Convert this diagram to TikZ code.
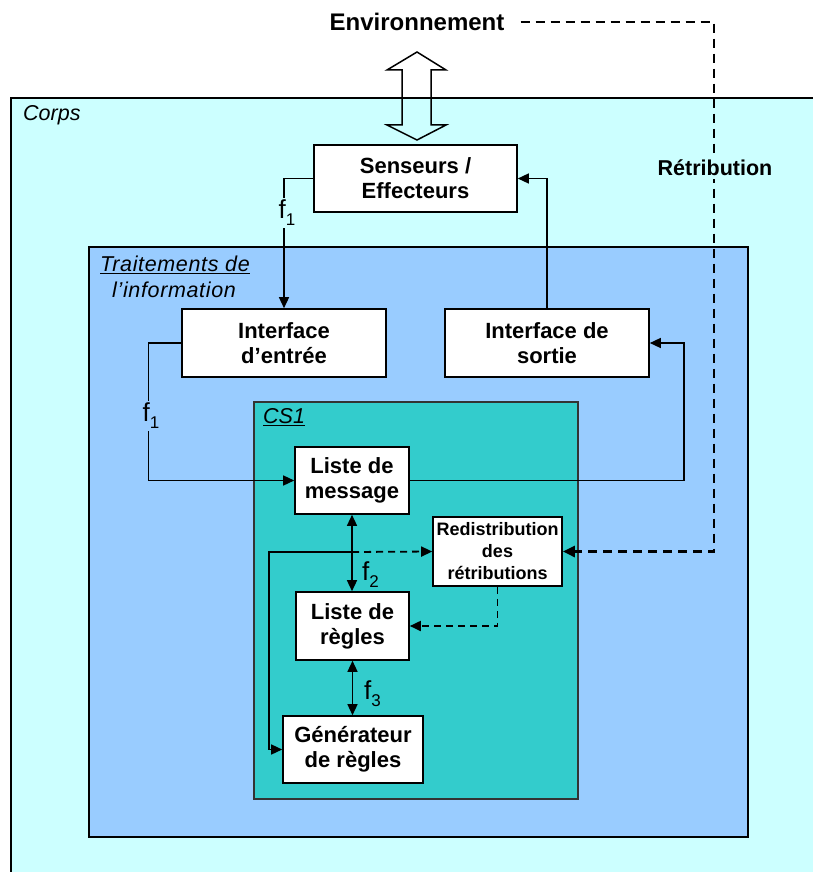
\documentclass[tikz,border=0pt]{standalone}
\usepackage{fontspec}
\setmainfont{Liberation Sans}
\usetikzlibrary{arrows.meta}
\definecolor{corps}{HTML}{CCFFFF}
\definecolor{trait}{HTML}{99CCFF}
\definecolor{csone}{HTML}{33CCCC}
\newcommand{\fsub}[1]{f\raisebox{-0.5ex}{\fontsize{17}{17}\selectfont #1}}
\begin{document}
\begin{tikzpicture}[x=1pt,y=-1pt,
  box/.style={draw=black, line width=1.6pt, fill=white, inner sep=0pt, align=center,
    font=\fontsize{22}{25}\selectfont\bfseries},
  smallbox/.style={box, font=\fontsize{18}{22}\selectfont\bfseries},
  tip/.style={-{Triangle[length=11pt,width=10pt]}},
  conn/.style={line width=1.4pt, tip},
  dconn/.style={line width=1.4pt, {Triangle[length=11pt,width=10pt]}-{Triangle[length=11pt,width=10pt]}},
  dashconn/.style={line width=1.8pt, dash pattern=on 7pt off 5pt, tip},
  bigdash/.style={line width=2.6pt, dash pattern=on 9pt off 6pt, -{Triangle[length=12pt,width=11pt]}},
  lab/.style={font=\fontsize{26}{26}\selectfont, inner sep=2pt},
  itlab/.style={font=\fontsize{21.5}{25}\selectfont\itshape, anchor=west, inner sep=0pt},
  spitlab/.style={itlab, font=\fontsize{21.5}{25}\selectfont\itshape\addfontfeature{LetterSpace=3}},
]
\useasboundingbox (0,0) rectangle (813,872);
% containers
\fill[corps] (11,98) rectangle (813,872);
\draw[line width=1.3pt] (813,98) -- (11,98) -- (11,872);
\draw[line width=1.3pt, fill=trait] (89,247) rectangle (748,837);
\draw[line width=1.1pt, draw=black!80, fill=csone] (254,402) rectangle (578,799);
\node[itlab] (corpsl) at (23,115) {Corps};
\node[spitlab] (tr1) at (100,265) {\underline{Traitements de}};
\node[spitlab] (tr2) at (112,290) {l’information};
\node[itlab] (csl) at (263,417) {\underline{CS1}};

% top
\node[font=\fontsize{24}{24}\selectfont\bfseries, inner sep=2pt] (env) at (417,22) {Environnement};
\draw[line width=1.5pt] (417,52) -- (446,70) -- (431,70) -- (431,125) -- (446,125) -- (417,140)
  -- (387,125) -- (402,125) -- (402,70) -- (387,70) -- cycle;

% boxes
\node[box, minimum width=203pt, minimum height=67pt] (sens) at (415.5,178.5) {Senseurs /\\Effecteurs};
\node[box, minimum width=204pt, minimum height=68pt] (ie) at (284,343) {Interface\\d’entrée};
\node[box, minimum width=204pt, minimum height=68pt] (is) at (547,343) {Interface de\\sortie};
\node[box, minimum width=114pt, minimum height=67pt] (lm) at (352,480.5) {Liste de\\message};
\node[smallbox, minimum width=129pt, minimum height=69pt] (rd) at (497.5,551.5) {Redistribution\\des\\rétributions};
\node[box, minimum width=113pt, minimum height=68pt] (lr) at (352.5,626) {Liste de\\règles};
\node[box, minimum width=140pt, minimum height=67pt] (gen) at (353,749.5) {Générateur\\de règles};

% connectors
\draw[conn] (sens.west) -| (ie.north);
\node[lab, fill=corps] (f1a) at (287,213) {\fsub{1}};
\draw[conn] (ie.west) -- ++(-33,0) |- (lm.west);
\node[lab, fill=trait] (f1b) at (151,416) {\fsub{1}};
\draw[conn] (lm.east) -- ++(274,0) |- (is.east);
\draw[conn] (is.north) |- (sens.east);
\draw[dconn] (lm.south) -- (lm.south |- lr.north);
\node[lab, anchor=west] (f2) at (360,575) {\fsub{2}};
\draw[dconn] (lr.south) -- (lr.south |- gen.north);
\node[lab, anchor=west] (f3) at (362,694) {\fsub{3}};
\coordinate (j) at (352,552);
\coordinate (jl) at (269,552);
\draw[conn] (j) -- (jl) |- (gen.west);
\draw[dashconn] (j) -- (rd.west);
\draw[dashconn] (rd.south) |- (lr.east);
\coordinate (r1) at (714,22);
\draw[bigdash] ([xshift=14pt]env.east) -- (r1) |- (rd.east);
\node[font=\fontsize{21.5}{21.5}\selectfont\bfseries, fill=corps, inner sep=3pt] (ret) at (715,168) {Rétribution};
\end{tikzpicture}
\end{document}
